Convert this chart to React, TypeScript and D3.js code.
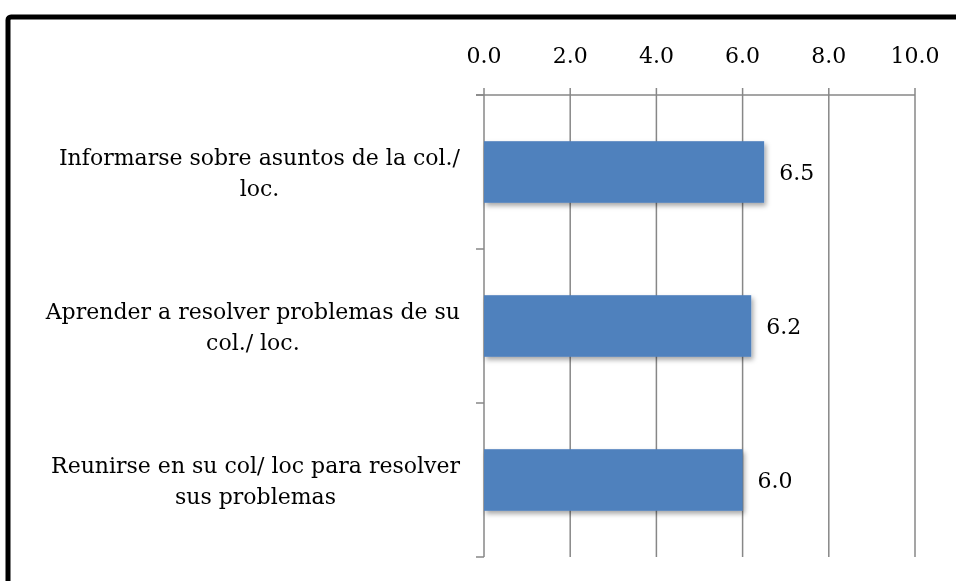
import React, { useRef, useEffect } from "react";
import * as d3 from "d3";

// datos
const categories = [
  ["Informarse sobre asuntos de la col./", "loc."],
  ["Aprender a resolver problemas de su", "col./ loc."],
  ["Reunirse en su col/ loc para resolver", "sus problemas"],
];
const values = [6.5, 6.2, 6.0];
const tickValues = [0, 2, 4, 6, 8, 10];

const W = 956;
const H = 581;
const FONT = "'DejaVu Serif', serif";
const FS = 22;

const App = () => {
  const svgRef = useRef<SVGSVGElement>(null);

  useEffect(() => {
    const svg = d3.select(svgRef.current);
    svg.selectAll("*").remove();

    // marco
    svg
      .append("rect")
      .attr("x", 8)
      .attr("y", 17)
      .attr("width", 1000)
      .attr("height", 700)
      .attr("rx", 3)
      .attr("fill", "#fff")
      .attr("stroke", "#000")
      .attr("stroke-width", 5);

    const x = d3.scaleLinear().domain([0, 10]).range([484, 915]);
    const y = d3
      .scaleBand<number>()
      .domain(values.map((v, i) => i))
      .range([95, 557])
      .paddingInner(0.6)
      .paddingOuter(0.3);
    const step = y.step();
    const top = 95;
    const bottom = 557;

    const defs = svg.append("defs");
    const f = defs
      .append("filter")
      .attr("id", "sh")
      .attr("x", "-10%")
      .attr("y", "-20%")
      .attr("width", "130%")
      .attr("height", "160%");
    f.append("feDropShadow")
      .attr("dx", 2)
      .attr("dy", 3)
      .attr("stdDeviation", 2.5)
      .attr("flood-color", "#000")
      .attr("flood-opacity", 0.35);

    // líneas de cuadrícula y eje de valores
    const grid = svg.append("g");
    grid
      .selectAll("line.g")
      .data(tickValues)
      .join("line")
      .attr("x1", (d) => x(d))
      .attr("x2", (d) => x(d))
      .attr("y1", top - 7)
      .attr("y2", bottom)
      .attr("stroke", "#878787")
      .attr("stroke-width", 1.5);
    grid
      .append("line")
      .attr("x1", x(0) - 8)
      .attr("x2", x(10))
      .attr("y1", top)
      .attr("y2", top)
      .attr("stroke", "#878787")
      .attr("stroke-width", 1.5);

    // eje de categorías
    const catTicks = d3.range(values.length + 1).map((i) => top + i * step);
    grid
      .selectAll("line.c")
      .data(catTicks)
      .join("line")
      .attr("x1", x(0) - 8)
      .attr("x2", x(0))
      .attr("y1", (d) => d)
      .attr("y2", (d) => d)
      .attr("stroke", "#878787")
      .attr("stroke-width", 1.5);

    svg
      .append("g")
      .selectAll("text")
      .data(tickValues)
      .join("text")
      .attr("x", (d) => x(d))
      .attr("y", 63)
      .attr("text-anchor", "middle")
      .attr("font-family", FONT)
      .attr("font-size", FS)
      .text((d) => d.toFixed(1));

    // barras
    svg
      .append("g")
      .selectAll("rect")
      .data(values)
      .join("rect")
      .attr("x", x(0))
      .attr("y", (d, i) => y(i)!)
      .attr("width", (d) => x(d) - x(0))
      .attr("height", y.bandwidth())
      .attr("fill", "#4F81BD")
      .attr("filter", "url(#sh)");

    // etiquetas de valor
    svg
      .append("g")
      .selectAll("text")
      .data(values)
      .join("text")
      .attr("x", (d) => x(d) + 15)
      .attr("y", (d, i) => y(i)! + y.bandwidth() / 2 + 8)
      .attr("font-family", FONT)
      .attr("font-size", FS)
      .text((d) => d.toFixed(1));

    // etiquetas de categoría
    const right = 460;
    categories.forEach((lines, i) => {
      const cy = y(i)! + y.bandwidth() / 2;
      const g = svg.append("g");
      const texts = g
        .selectAll("text")
        .data(lines)
        .join("text")
        .attr("y", (d, j) => cy + (j - (lines.length - 1) / 2) * 31 + 8)
        .attr("text-anchor", "middle")
        .attr("font-family", FONT)
        .attr("font-size", FS)
        .text((d) => d);
      let maxW = 0;
      texts.each(function () {
        maxW = Math.max(maxW, (this as SVGTextElement).getComputedTextLength());
      });
      texts.attr("x", right - maxW / 2);
    });
  }, []);

  return (
    <svg
      ref={svgRef}
      width={W}
      height={H}
      style={{ display: "block", position: "fixed", left: 0, top: 0 }}
    />
  );
};

export default App;
